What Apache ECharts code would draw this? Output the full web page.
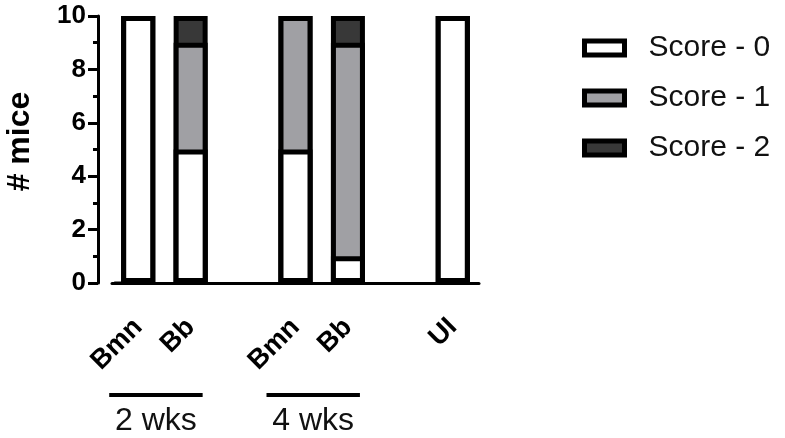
<!DOCTYPE html>
<html>
<head>
<meta charset="utf-8">
<script src="https://cdn.jsdelivr.net/npm/echarts@6/dist/echarts.min.js"></script>
<style>
  html, body { margin: 0; padding: 0; background: #fff; }
  #main { width: 785px; height: 438px; }
</style>
</head>
<body>
<div id="main"></div>
<script>
// categories (blank entries are the gaps between groups)
var categories = ['Bmn', 'Bb', '', 'Bmn', 'Bb', '', 'UI'];
// number of mice per score
var score0 = [10, 5, null, 5, 1, null, 10];
var score1 = [0, 4, null, 5, 8, null, 0];
var score2 = [0, 1, null, 0, 1, null, 0];
// groups under the axis
var groupLabels = ['2 wks', '4 wks'];
var groupFirst = [0, 3];
var groupLast = [1, 4];

var FONT = '"Liberation Sans", Arial, sans-serif';

var chart = echarts.init(document.getElementById('main'));

// stacked look: each score is drawn as a column from 0 up to its running total,
// higher scores behind, so every segment keeps one inner border like Prism does
function runningTotal(parts) {
    return parts[0].map(function (v, i) {
        if (v === null) return null;
        var s = 0;
        parts.forEach(function (p) { s += p[i]; });
        return s;
    });
}

function bar(name, data, color) {
    return {
        name: name,
        type: 'bar',
        barWidth: 34,
        barGap: '-100%',
        data: data,
        itemStyle: { color: color, borderColor: '#000', borderWidth: 5 }
    };
}

var option = {
    animation: false,
    grid: { left: 112, right: 306, top: 16, bottom: 155 },
    legend: {
        data: ['Score - 0', 'Score - 1', 'Score - 2'],
        orient: 'vertical',
        left: 577,
        top: 28,
        itemGap: 20,
        itemWidth: 40,
        itemHeight: 14,
        icon: 'rect',
        itemStyle: { borderColor: '#000', borderWidth: 5 },
        textStyle: { fontFamily: FONT, fontSize: 30, color: '#111', padding: [0, 0, 0, 19] }
    },
    xAxis: {
        type: 'category',
        data: categories,
        axisLine: { lineStyle: { color: '#000', width: 3 } },
        axisTick: { alignWithLabel: true, length: 16, interval: 0, lineStyle: { color: '#000', width: 3 } },
        axisLabel: {
            interval: 0,
            rotate: 45,
            margin: 40,
            fontFamily: FONT,
            fontWeight: 'bold',
            fontSize: 27,
            color: '#000'
        }
    },
    yAxis: {
        type: 'value',
        min: 0,
        max: 10,
        interval: 2,
        offset: 14,
        name: '# mice',
        nameLocation: 'middle',
        nameRotate: 90,
        nameGap: 62,
        nameTextStyle: { fontFamily: FONT, fontWeight: 'bold', fontSize: 32, color: '#000', padding: [0, 0, 0, 16] },
        axisLine: { show: true, lineStyle: { color: '#000', width: 3 } },
        axisTick: { show: true, length: 10, lineStyle: { color: '#000', width: 3 } },
        minorTick: { show: true, splitNumber: 2, length: 5, lineStyle: { color: '#000', width: 3 } },
        splitLine: { show: false },
        axisLabel: { margin: 12, fontFamily: FONT, fontWeight: 'bold', fontSize: 26, color: '#000' }
    },
    series: [
        bar('Score - 2', runningTotal([score0, score1, score2]), '#383838'),
        bar('Score - 1', runningTotal([score0, score1]), '#a0a0a4'),
        bar('Score - 0', score0, '#ffffff')
    ]
};
chart.setOption(option);

// group bars and labels below the axis labels
var extra = [];
var axisY = chart.convertToPixel({ gridIndex: 0 }, [0, 0])[1];
for (var i = 0; i < groupLabels.length; i++) {
    var x1 = chart.convertToPixel({ xAxisIndex: 0 }, groupFirst[i]) - 29;
    var x2 = chart.convertToPixel({ xAxisIndex: 0 }, groupLast[i]) + 12;
    extra.push({
        type: 'line',
        shape: { x1: x1, y1: axisY + 112, x2: x2, y2: axisY + 112 },
        style: { stroke: '#000', lineWidth: 4 }
    });
    extra.push({
        type: 'text',
        x: (x1 + x2) / 2,
        y: axisY + 138,
        style: { text: groupLabels[i], font: '32px ' + FONT, fill: '#111', align: 'center', verticalAlign: 'middle' }
    });
}
// x axis line runs on to the left of the y axis
var yAxisX = chart.convertToPixel({ gridIndex: 0 }, [0, 0])[0] - 14;
extra.push({
    type: 'line',
    shape: { x1: yAxisX - 10, y1: axisY, x2: yAxisX + 16, y2: axisY },
    style: { stroke: '#000', lineWidth: 3 }
});
chart.setOption({ graphic: extra });
</script>
</body>
</html>
